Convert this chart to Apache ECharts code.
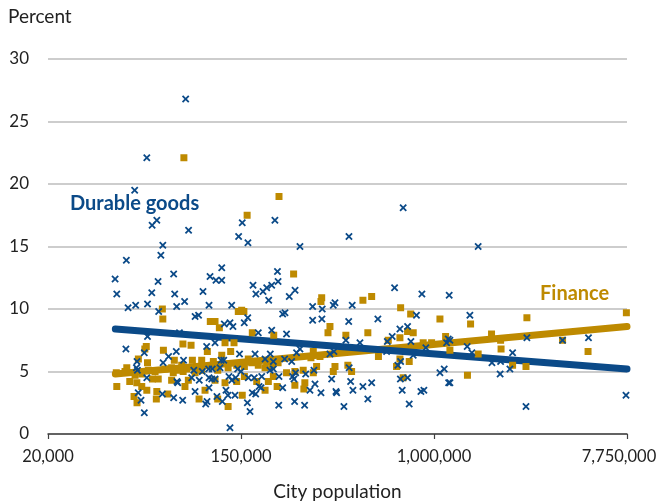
<!DOCTYPE html>
<html>
<head>
<meta charset="utf-8">
<script src="https://cdn.jsdelivr.net/npm/echarts@6/dist/echarts.min.js"></script>
<style>
html,body{margin:0;padding:0;background:#fff;}
#chart{width:660px;height:502px;}
</style>
</head>
<body>
<div id="chart"></div>
<script>
// City population tick labels (equally spaced on a log scale)
const xTickLabels = ['20,000', '150,000', '1,000,000', '7,750,000'];
const xMinPop = 20000;
const xMaxPop = 7750000;

// [city population, percent]
const durableGoods = [
[82500,26.8],[55300,22.1],[48800,19.5],[61300,17.1],[58400,16.7],[85000,16.3],[147700,16.9],[206700,17.1],[142300,15.8],[156600,15.3],
[65200,15.1],[63900,14.3],[44800,13.9],[119600,13.3],[212200,13.0],[39900,12.4],[72900,12.8],[106000,12.6],[112700,12.3],[119600,12.3],
[62100,12.2],[213600,12.2],[165000,11.9],[200000,11.9],[190000,11.7],[182900,11.4],[40600,11.2],[58200,11.3],[73700,11.2],[98600,11.4],
[170000,11.2],[193900,10.7],[81600,10.6],[55700,10.4],[49300,10.3],[45600,10.1],[75200,10.2],[104900,10.3],[132500,10.3],[62500,9.8],
[90900,9.4],[94200,9.5],[122800,8.8],[130200,8.9],[134200,8.6],[150800,8.9],[156300,9.3],[223900,9.6],[174200,8.1],[200000,8.3],
[55700,7.8],[77400,8.1],[111600,7.3],[102400,7.0],[44600,6.8],[53900,6.5],[74900,6.6],[143600,6.4],[168500,6.4],[197100,6.4],
[69200,6.2],[80700,5.9],[50000,5.8],[118800,5.9],[122100,5.9],[65400,5.7],[186800,6.0],[203400,5.8],[49700,5.3],[50200,5.1],
[89700,5.1],[97900,5.0],[104500,5.2],[108500,5.2],[117500,5.3],[140900,5.2],[145800,5.0],[196500,5.1],[203400,5.2],[55300,4.5],
[75400,4.2],[76000,4.1],[87800,4.5],[94900,4.3],[104900,4.5],[111600,4.4],[128800,4.6],[132600,4.3],[138000,4.5],[157200,4.5],
[167200,4.5],[180500,4.6],[215600,4.6],[107900,4.4],[50600,3.3],[52100,2.7],[64900,3.2],[72900,2.9],[80000,2.7],[90900,3.4],
[104900,3.7],[113800,3.0],[120300,2.6],[124900,3.5],[127500,3.1],[137100,3.1],[102800,2.6],[101400,2.4],[163800,3.3],[169600,3.2],
[175700,3.8],[179200,3.7],[155700,2.5],[160000,1.8],[215000,2.3],[53900,1.7],[130200,0.5],
[774000,18.1],[443000,15.8],[267500,15.0],[254400,11.5],[239600,11.0],[708400,11.7],[938500,11.2],[1243000,11.1],[304800,10.2],[336500,10.0],
[377000,10.3],[383600,10.5],[458100,10.3],[229300,9.7],[887700,9.5],[304800,9.1],[335300,9.2],[441800,9.0],[596500,9.2],[748500,8.4],
[809900,8.6],[233000,8.0],[429100,7.5],[496000,7.3],[691400,7.8],[657400,7.4],[838000,7.4],[1210000,7.3],[1231000,7.6],[258300,6.5],
[267500,6.8],[364300,6.4],[379500,6.6],[228500,6.0],[245700,5.8],[858400,6.3],[977300,6.9],[652700,6.6],[754000,5.8],[732600,5.5],
[308900,5.1],[444000,5.3],[255800,4.9],[283800,4.8],[251500,4.4],[248100,4.6],[370800,4.4],[450700,4.2],[752000,4.4],[809900,4.5],
[1130000,4.9],[1181000,5.2],[1236000,4.1],[223900,3.7],[296500,3.5],[312300,4.0],[332100,3.3],[387400,3.4],[390100,3.3],[461500,3.5],
[511400,3.8],[559600,4.1],[766300,3.5],[929000,3.4],[957900,3.5],[253200,2.6],[280600,2.3],[420600,2.2],[538000,2.8],[823700,2.4],
[1675000,15.0],[1538000,9.5],[2766000,7.7],[3992000,7.5],[5214000,7.7],[1496000,7.0],[1570000,6.5],[2387000,6.5],[1930000,5.7],[2110000,5.8],
[2100000,4.8],[2322000,5.2],[1252000,4.1],[2740000,2.2],[7670000,3.1],[1252000,7.5]
];

const finance = [
[81000,22.1],[215600,19.0],[155300,17.5],[64900,10.0],[146800,9.9],[65200,9.2],[141800,9.8],[150200,9.8],[106300,9.0],[111600,9.0],
[116700,8.5],[163800,8.1],[204200,7.9],[55000,7.0],[54200,6.8],[65600,6.7],[80200,7.2],[87200,7.1],[103100,6.6],[123700,7.3],
[135700,7.3],[131100,6.6],[50700,6.0],[55700,5.7],[66700,5.2],[73400,5.9],[88400,5.9],[97300,5.9],[109700,5.8],[119600,6.3],
[157200,6.0],[171400,5.8],[190000,5.8],[40400,4.9],[45000,5.3],[46400,4.2],[58600,4.4],[62200,4.4],[72600,4.9],[80400,5.0],
[90900,4.9],[40600,3.8],[49900,4.1],[55300,3.5],[61300,3.4],[61000,2.8],[48500,3.0],[50000,2.5],[68600,3.2],[81900,3.8],
[100700,3.5],[94700,2.8],[114700,2.8],[127700,2.2],[147700,3.1],[186800,3.5],[211500,3.8],[71400,4.3],[44200,5.0],[49000,4.7],
[52500,4.8],[56200,5.1],[60200,5.0],[71400,5.3],[75200,5.1],[79200,5.5],[83400,5.2],[92400,5.4],[97300,5.1],[107900,5.4],
[114800,5.1],[127700,5.3],[139500,5.5],[151000,5.4],[162800,5.7],[174200,5.5],[186800,5.3],[200000,5.4],[213600,5.7],[84800,4.3],
[111600,4.3],[123700,4.1],[139500,4.2],[151000,4.6],[171400,4.2],[193200,4.2],[203400,4.6],[52500,3.8],
[250600,12.8],[334600,10.9],[332100,10.6],[511400,10.7],[559600,11.0],[754000,10.1],[836000,9.6],[1130000,9.2],[364300,8.6],[357000,8.1],
[538000,8.1],[809900,8.2],[858400,8.1],[429100,7.9],[664000,7.5],[748500,7.7],[951000,7.3],[1037000,7.3],[1198000,7.8],[1231000,7.4],
[328700,6.2],[306900,6.6],[299500,6.1],[600000,6.2],[748500,6.0],[823700,5.8],[723000,5.4],[383600,5.4],[377000,5.0],[455200,5.0],
[438000,5.5],[317500,5.4],[306900,4.9],[233000,4.9],[253900,5.0],[276600,5.1],[253900,3.9],[281300,4.1],[774000,4.5],[278500,3.6],
[1549000,8.8],[2766000,9.3],[7700000,9.7],[1922000,8.0],[2110000,7.5],[2120000,6.8],[3992000,7.5],[5190000,6.6],[1675000,6.4],[2387000,5.5],
[2740000,5.4],[1500000,4.7],[1252000,6.7]
];

// Fitted trend lines: [population, percent] at start and end
const durableTrend = [[40000, 8.4], [7750000, 5.2]];
const financeTrend = [[40000, 4.8], [7750000, 8.6]];

const BLUE = '#0b4a88';
const GOLD = '#be8a00';
const FONT = 'Lato, "Open Sans", sans-serif';

const SPAN = Math.log(xMaxPop / xMinPop);
const toAxis = p => 3 * Math.log(p / xMinPop) / SPAN;
const conv = arr => arr.map(d => [toAxis(d[0]), d[1]]);

const crossPath = 'path://M0,1.7 L1.7,0 L5,3.3 L8.3,0 L10,1.7 L6.7,5 L10,8.3 L8.3,10 L5,6.7 L1.7,10 L0,8.3 L3.3,5 Z';

const chart = echarts.init(document.getElementById('chart'), null, {renderer: 'canvas'});
chart.setOption({
  animation: false,
  backgroundColor: '#ffffff',
  grid: {left: 48, right: 33, top: 59, bottom: 68, containLabel: false, outerBoundsMode: 'none'},
  xAxis: {
    type: 'value', min: 0, max: 3, interval: 1,
    name: 'City population', nameLocation: 'middle', nameGap: 48,
    nameTextStyle: {fontFamily: FONT, fontSize: 19, color: '#222'},
    axisLine: {show: true, lineStyle: {color: '#404040', width: 1.5}},
    axisTick: {show: true, length: 5, lineStyle: {color: '#404040', width: 1.2}},
    axisLabel: {
      fontFamily: FONT, fontSize: 16.5, color: '#222', margin: 14,
      formatter: v => {
        const i = Math.round(v);
        return i === xTickLabels.length - 1 ? '{last|' + xTickLabels[i] + '}' : xTickLabels[i];
      },
      rich: {
        last: {fontFamily: FONT, fontSize: 16.5, color: '#222', padding: [0, 16, 0, 0]}
      }
    },
    splitLine: {show: false}
  },
  yAxis: {
    type: 'value', min: 0, max: 30, interval: 5,
    axisLine: {show: false},
    axisTick: {show: false},
    axisLabel: {fontFamily: FONT, fontSize: 17, color: '#222', margin: 19},
    splitLine: {show: true, lineStyle: {color: '#bdbdbd', width: 1.5}}
  },
  graphic: [
    {type: 'text', left: 8, top: 7, style: {text: 'Percent', font: '19px ' + FONT, fill: '#222'}},
    {type: 'text', left: 70, top: 194, style: {text: 'Durable goods', font: 'bold 20px ' + FONT, fill: BLUE}},
    {type: 'text', left: 540, top: 284, style: {text: 'Finance', font: 'bold 20px ' + FONT, fill: GOLD}}
  ],
  series: [
    {
      type: 'line', data: conv(financeTrend), showSymbol: false, symbol: 'none', z: 2,
      lineStyle: {color: GOLD, width: 7, cap: 'round'}
    },
    {
      type: 'line', data: conv(durableTrend), showSymbol: false, symbol: 'none', z: 3,
      lineStyle: {color: BLUE, width: 7, cap: 'round'}
    },
    {
      type: 'scatter', data: conv(finance), symbol: 'rect', symbolSize: 7, z: 4,
      itemStyle: {color: GOLD, opacity: 1}
    },
    {
      type: 'scatter', data: conv(durableGoods), symbol: crossPath, symbolSize: 7.5, z: 5,
      itemStyle: {color: BLUE, opacity: 1}
    }
  ]
});
</script>
</body>
</html>
